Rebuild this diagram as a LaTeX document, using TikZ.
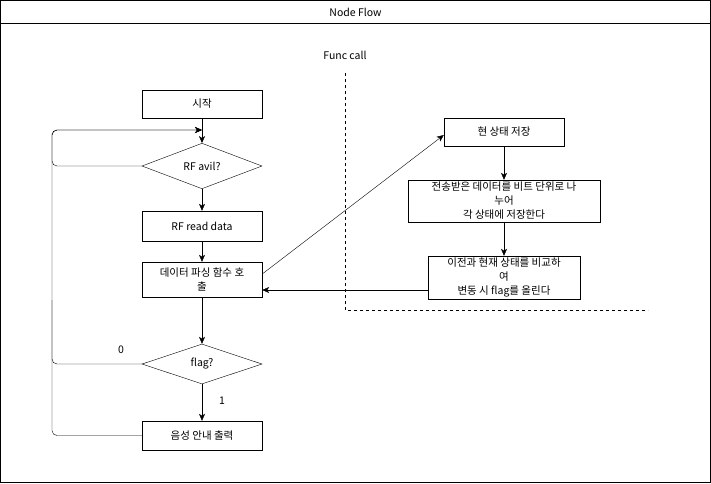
\documentclass[tikz,border=0pt]{standalone}
\usepackage{fontspec}
\setmainfont{Noto Sans CJK KR}
\usetikzlibrary{shapes.geometric,arrows.meta,calc}
\begin{document}
\begin{tikzpicture}[x=1pt,y=-1pt,
  every node/.style={font=\fontsize{10.5}{14}\selectfont},
  box/.style={draw,rectangle,inner sep=0pt,align=center},
  dia/.style={draw,diamond,inner sep=0pt,minimum width=120pt,minimum height=40pt},
  arr/.style={-{Stealth[length=7pt,width=6pt,inset=2pt]}},
  lbl/.style={inner sep=0pt}]
\useasboundingbox (0,0) rectangle (711,483);
\draw (0.5,0.5) rectangle (710.5,482.5);
\draw (0.5,23) -- (710.5,23);
\node[lbl] (title) at (355.5,12) {Node Flow};
\node[lbl] (func) at (345,55) {Func call};
\coordinate (d1) at (345,73);
\coordinate (d2) at (345,310);
\coordinate (d3) at (648,310);
\draw[dashed] (d1) -- (d2) -- (d3);

\node[box,minimum width=120pt,minimum height=28pt] (start) at (202,104) {시작};
\node[dia] (avil) at (202,166) {RF avil?};
\node[box,minimum width=120pt,minimum height=30pt] (read) at (202,226) {RF read data};
\node[box,minimum width=120pt,minimum height=35pt] (parse) at (202,279.5) {데이터 파싱 함수 호\\출};
\node[dia] (flag) at (202,364) {flag?};
\node[box,minimum width=120pt,minimum height=29pt] (voice) at (202,435.5) {음성 안내 출력};

\node[box,minimum width=120pt,minimum height=28pt] (cur) at (504,132) {현 상태 저장};
\node[box,minimum width=192pt,minimum height=42pt] (split) at (504,201) {전송받은 데이터를 비트 단위로 나\\누어\\각 상태에 저장한다};
\node[box,minimum width=152pt,minimum height=43pt] (cmp) at (504,277.5) {이전과 현재 상태를 비교하\\여\\변동 시 flag를 올린다};

\coordinate (j) at (202,130);
\draw[arr] (start) -- (avil);
\draw[arr,rounded corners=5pt] (avil.west) -- (52,166) -- (52,130) -- (j);
\draw[rounded corners=5pt] (flag.west) -- (52,364) -- (52,300);
\draw[arr,rounded corners=5pt] (voice.west) -- (52,435.5) -- (52,130) -- (j);
\draw[arr] (avil) -- (read);
\draw[arr] (read) -- (parse);
\draw[arr] (parse) -- (flag);
\draw[arr] (flag) -- (voice);
\node[lbl] (zero) at (121,350) {0};
\node[lbl] (one) at (222,401) {1};

\draw[arr] ($(parse.east)+(0,-5.5)$) -- ($(cur.west)+(0,3)$);
\draw[arr] (cur) -- (split);
\draw[arr] (split) -- (cmp);
\draw[arr] ($(cmp.west)+(0,12.5)$) -- ($(parse.east)+(0,10.5)$);
\end{tikzpicture}
\end{document}
